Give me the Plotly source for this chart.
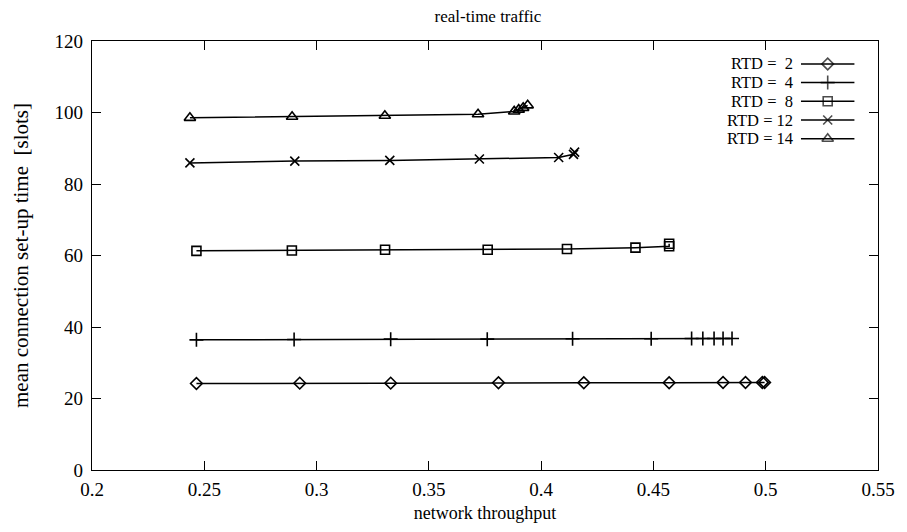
import plotly.graph_objects as go

# network throughput (x) and mean connection set-up time in slots (y), one pair per RTD value
rtd_labels = ["RTD =  2", "RTD =  4", "RTD =  8", "RTD = 12", "RTD = 14"]

x_rtd2 = [0.2465, 0.2925, 0.333, 0.381, 0.419, 0.457, 0.481, 0.491, 0.4985, 0.4995]
y_rtd2 = [24.2, 24.3, 24.3, 24.4, 24.4, 24.4, 24.5, 24.5, 24.5, 24.5]

x_rtd4 = [0.2465, 0.290, 0.333, 0.376, 0.414, 0.449, 0.467, 0.472, 0.477, 0.481, 0.485]
y_rtd4 = [36.4, 36.5, 36.6, 36.6, 36.7, 36.7, 36.8, 36.8, 36.8, 36.8, 36.8]

x_rtd8 = [0.2465, 0.289, 0.3305, 0.3762, 0.4115, 0.442, 0.457, 0.457]
y_rtd8 = [61.3, 61.4, 61.6, 61.6, 61.8, 62.2, 62.6, 63.3]

x_rtd12 = [0.2436, 0.2903, 0.3326, 0.3725, 0.4078, 0.4144, 0.4149]
y_rtd12 = [85.9, 86.4, 86.6, 87.0, 87.4, 88.3, 88.9]

x_rtd14 = [0.2436, 0.2891, 0.3304, 0.3719, 0.388, 0.390, 0.392, 0.394]
y_rtd14 = [98.5, 98.8, 99.1, 99.5, 100.3, 100.8, 101.3, 102.0]

x_ticks = [0.2, 0.25, 0.3, 0.35, 0.4, 0.45, 0.5, 0.55]
x_tick_text = ["0.2", "0.25", "0.3", "0.35", "0.4", "0.45", "0.5", "0.55"]
y_ticks = [0, 20, 40, 60, 80, 100, 120]

series = [
    (x_rtd2, y_rtd2, "diamond-open", 9),
    (x_rtd4, y_rtd4, "cross-thin-open", 10),
    (x_rtd8, y_rtd8, "square-open", 9),
    (x_rtd12, y_rtd12, "x-thin-open", 9),
    (x_rtd14, y_rtd14, "triangle-up-open", 10),
]

FONT = "Liberation Serif"
fig = go.Figure()

for (xs, ys, sym, size), name in zip(series, rtd_labels):
    fig.add_trace(go.Scatter(
        x=xs, y=ys, mode="lines+markers", name=name, showlegend=False,
        line=dict(color="black", width=1.5),
        marker=dict(symbol=sym, size=size, color="black",
                    line=dict(color="black", width=1.6)),
    ))

# key in the upper right: label, short line and symbol, drawn on an overlay axis in [0, 1]
key_rows_y = [0.9466, 0.903, 0.8594, 0.8158, 0.7722]
for (xs, ys, sym, size), name, ky in zip(series, rtd_labels, key_rows_y):
    fig.add_trace(go.Scatter(
        x=[0.902, 0.936, 0.97], y=[ky, ky, ky], xaxis="x2", yaxis="y2",
        mode="lines+markers", showlegend=False, hoverinfo="skip",
        line=dict(color="black", width=1.5),
        marker=dict(symbol=sym, size=[0, size, 0], color="black",
                    line=dict(color="black", width=1.6)),
    ))
    fig.add_annotation(
        x=0.893, y=ky, xref="x2", yref="y2", text=name, showarrow=False,
        xanchor="right", yanchor="middle", borderpad=0,
        font=dict(family=FONT, size=16.5, color="black"),
    )

axis_common = dict(
    showgrid=False, zeroline=False, showline=True, linecolor="black",
    linewidth=1.2, mirror="allticks", ticks="inside", ticklen=9,
    tickcolor="black", tickwidth=1.2,
    tickfont=dict(family=FONT, size=19, color="black"),
)

fig.update_layout(
    width=907, height=532,
    margin=dict(l=92, r=23, t=41, b=60),
    paper_bgcolor="white", plot_bgcolor="white",
    title=dict(text="real-time traffic", x=0.538, xanchor="center",
               y=0.97, yanchor="middle",
               font=dict(family=FONT, size=17, color="black")),
    xaxis=dict(range=[0.2, 0.55], tickvals=x_ticks, ticktext=x_tick_text,
               ticklabelstandoff=2,
               title=dict(text="network throughput", standoff=7,
                          font=dict(family=FONT, size=18, color="black")),
               **axis_common),
    yaxis=dict(range=[0, 120], tickvals=y_ticks, ticklabelstandoff=4,
               title=dict(text="mean connection set-up time  [slots]", standoff=20,
                          font=dict(family=FONT, size=21, color="black")),
               **axis_common),
    xaxis2=dict(range=[0, 1], overlaying="x", visible=False, fixedrange=True),
    yaxis2=dict(range=[0, 1], overlaying="y", visible=False, fixedrange=True),
    showlegend=False,
)

fig.write_html("out.html")
